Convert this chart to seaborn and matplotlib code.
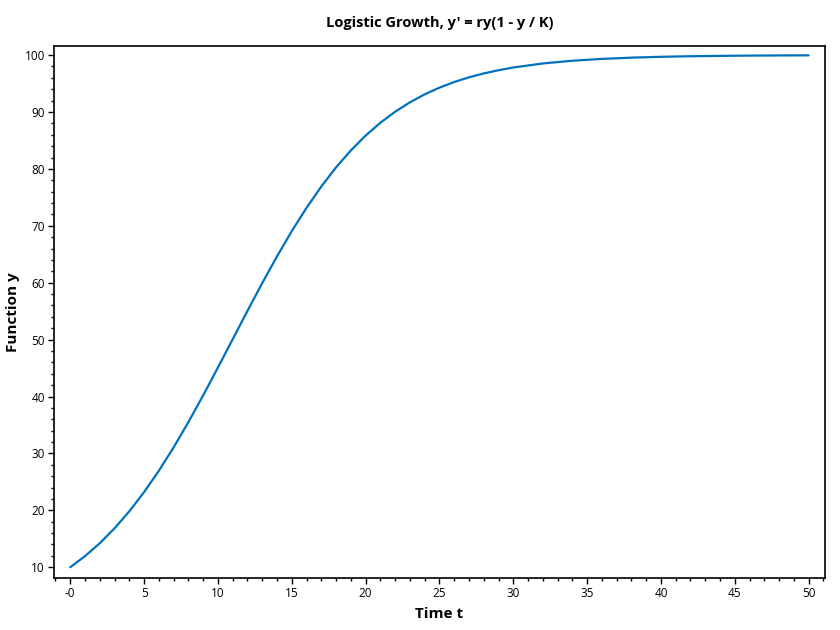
import matplotlib
matplotlib.use("Agg")
import matplotlib.pyplot as plt
import seaborn as sns
import pandas as pd
from matplotlib.ticker import MultipleLocator

# values
time_t = [0, 1, 2, 3, 4, 5, 6, 7, 8, 9, 10, 11, 12, 13, 14, 15, 16, 17, 18, 19,
          20, 21, 22, 23, 24, 25, 26, 27, 28, 29, 30, 32, 34, 36, 38, 40, 42, 44,
          46, 48, 50]
func_y = [10.0, 11.95, 14.22, 16.84, 19.83, 23.20, 26.95, 31.06, 35.50, 40.20,
          45.09, 50.07, 55.05, 59.93, 64.63, 69.06, 73.16, 76.90, 80.27, 83.24,
          85.85, 88.11, 90.05, 91.70, 93.10, 94.28, 95.27, 96.09, 96.78, 97.34,
          97.82, 98.53, 99.01, 99.33, 99.55, 99.70, 99.80, 99.86, 99.91, 99.94,
          99.96]
x_ticks = [0, 5, 10, 15, 20, 25, 30, 35, 40, 45, 50]
x_tick_labels = ["-0", "5", "10", "15", "20", "25", "30", "35", "40", "45", "50"]

df = pd.DataFrame({"t": time_t, "y": func_y})

sns.set_theme(style="ticks")
plt.rcParams["font.family"] = ["Open Sans", "DejaVu Sans"]
plt.rcParams["text.color"] = "black"
plt.rcParams["axes.labelcolor"] = "black"

fig = plt.figure(figsize=(8.4, 6.3), dpi=100)
ax = fig.add_axes([0.0643, 0.0825, 0.9177, 0.8445])

sns.lineplot(data=df, x="t", y="y", color="#0072BD", linewidth=1.6, ax=ax)

ax.set_xlim(-1.1, 51.1)
ax.set_ylim(8.1, 101.6)
ax.set_xticks(x_ticks)
ax.set_xticklabels(x_tick_labels)
ax.set_yticks(range(10, 101, 10))
ax.xaxis.set_minor_locator(MultipleLocator(1))
ax.yaxis.set_minor_locator(MultipleLocator(2))
ax.tick_params(axis="both", which="major", length=4, width=1, labelsize=8.5,
               colors="black", direction="out", pad=2.5)
ax.tick_params(axis="both", which="minor", length=2, width=1, direction="out",
               colors="black")
for s in ax.spines.values():
    s.set_color("black")
    s.set_linewidth(1.2)

ax.set_xlabel("Time t", fontsize=11, fontweight="bold", labelpad=5, color="black")
ax.set_ylabel("Function y", fontsize=11, fontweight="bold", labelpad=3, color="black")
ax.set_title("Logistic Growth, y' = ry(1 - y / K)", fontsize=10.5,
             fontweight="bold", pad=14, color="black")

fig.savefig("out.png", dpi=100)
